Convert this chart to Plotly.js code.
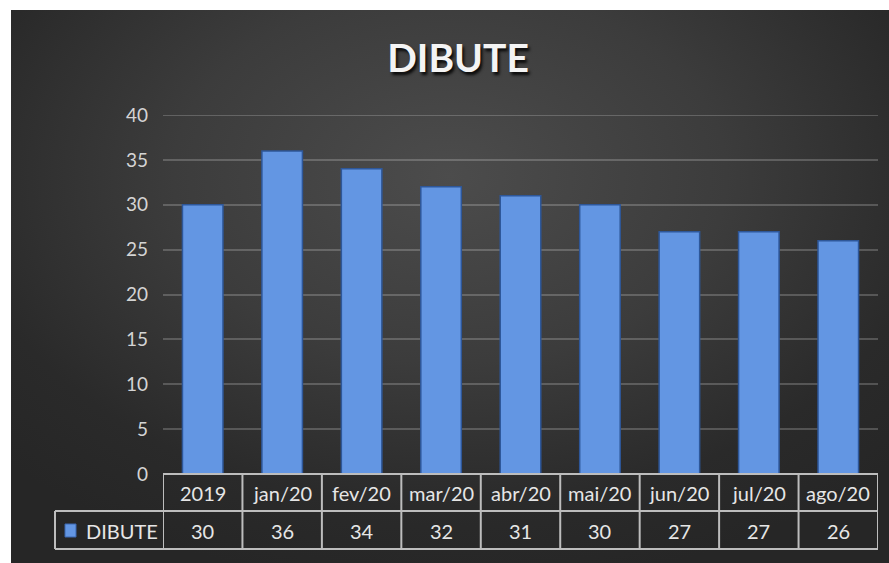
<!DOCTYPE html>
<html>
<head>
<meta charset="utf-8">
<script src="https://cdn.plot.ly/plotly-3.0.1.min.js"></script>
<style>
  html, body { margin: 0; padding: 0; background: #ffffff; width: 889px; height: 563px; overflow: hidden; }
  #chart {
    position: absolute; left: 11px; top: 10px; width: 878px; height: 553px;
    background: radial-gradient(ellipse 70% 75% at 50% 30%, #4c4c4c 0%, #3c3c3c 45%, #2a2a2a 80%, #262626 100%);
  }
</style>
</head>
<body>
<div id="chart"></div>
<script>
const categories = ["2019", "jan/20", "fev/20", "mar/20", "abr/20", "mai/20", "jun/20", "jul/20", "ago/20"];
const values = [30, 36, 34, 32, 31, 30, 27, 27, 26];
const seriesName = "DIBUTE";
const chartTitle = "DIBUTE";
const yTicks = [0, 5, 10, 15, 20, 25, 30, 35, 40];
const yMax = 40;

const W = 878, H = 553;
const M = { l: 152, r: 11, t: 105, b: 89 };
const plotW = W - M.l - M.r;
const plotH = H - M.t - M.b;
const py = px => -px / plotH;
const pxX = x => (x - M.l) / plotW;

const n = categories.length;
const lineColor = "#bdbdbd";
const lw = 2;
const fontFam = "Lato, 'Open Sans', sans-serif";
const gridColor = "rgba(255,255,255,0.2)";

const shapes = [];
// top gridline (Plotly hides gridlines at the range edge)
shapes.push({ type: "line", xref: "paper", yref: "y", x0: 0, x1: 1, y0: yMax, y1: yMax, layer: "below", line: { color: gridColor, width: 2 } });
shapes.push({ type: "line", xref: "x", yref: "paper", x0: -0.5, x1: n - 0.5, y0: 0, y1: 0, line: { color: lineColor, width: lw } });
shapes.push({ type: "line", xref: "paper", yref: "paper", x0: pxX(44), x1: 1, y0: py(37), y1: py(37), line: { color: lineColor, width: lw } });
shapes.push({ type: "line", xref: "paper", yref: "paper", x0: pxX(44), x1: 1, y0: py(75), y1: py(75), line: { color: lineColor, width: lw } });
shapes.push({ type: "line", xref: "paper", yref: "paper", x0: pxX(44), x1: pxX(44), y0: py(37), y1: py(75), line: { color: lineColor, width: lw } });
for (let i = 0; i <= n; i++) {
  shapes.push({ type: "line", xref: "x", yref: "paper", x0: i - 0.5, x1: i - 0.5, y0: 0, y1: py(75), line: { color: lineColor, width: lw } });
}
shapes.push({ type: "rect", xref: "paper", yref: "paper", x0: pxX(54), x1: pxX(65), y0: py(50), y1: py(63),
  fillcolor: "#6396e3", line: { color: "#3a66b0", width: 1 } });

const annotations = [];
categories.forEach((c, i) => {
  annotations.push({ x: i, y: py(18.5), xref: "x", yref: "paper", text: c, showarrow: false,
    xanchor: "center", yanchor: "middle", font: { family: fontFam, size: 20, color: "#e6e6e6" } });
  annotations.push({ x: i, y: py(56.5), xref: "x", yref: "paper", text: String(values[i]), showarrow: false,
    xanchor: "center", yanchor: "middle", font: { family: fontFam, size: 20, color: "#e6e6e6" } });
});
annotations.push({ x: pxX(73), y: py(56.5), xref: "paper", yref: "paper", text: seriesName, showarrow: false,
  xanchor: "left", yanchor: "middle", font: { family: fontFam, size: 20, color: "#e6e6e6" } });

const trace = {
  type: "bar",
  x: categories.map((c, i) => i),
  y: values,
  name: seriesName,
  marker: { color: "#6396e3", line: { color: "#2e5799", width: 1.5 } },
  hoverinfo: "skip"
};

const layout = {
  width: W, height: H,
  paper_bgcolor: "rgba(0,0,0,0)",
  plot_bgcolor: "rgba(0,0,0,0)",
  margin: M,
  showlegend: false,
  bargap: 0.49,
  title: {
    text: chartTitle,
    x: 447 / W, xref: "container", xanchor: "center",
    y: 1 - 48 / H, yref: "container", yanchor: "middle",
    font: { family: fontFam, size: 39, weight: 700, color: "#f4f4f4", shadow: "2px 3px 3px rgba(0,0,0,0.85)" }
  },
  xaxis: {
    range: [-0.5, n - 0.5],
    showticklabels: false, showgrid: false, zeroline: false, showline: false, ticks: "",
    fixedrange: true
  },
  yaxis: {
    range: [0, yMax],
    tickvals: yTicks,
    ticktext: yTicks.map(String),
    tickfont: { family: fontFam, size: 19, color: "#d4d4d4" },
    ticklabelstandoff: 14,
    showgrid: true, gridcolor: gridColor, gridwidth: 2,
    zeroline: false, showline: false, ticks: "",
    fixedrange: true
  },
  shapes: shapes,
  annotations: annotations
};

Plotly.newPlot("chart", [trace], layout, { displayModeBar: false, staticPlot: true });
</script>
</body>
</html>
